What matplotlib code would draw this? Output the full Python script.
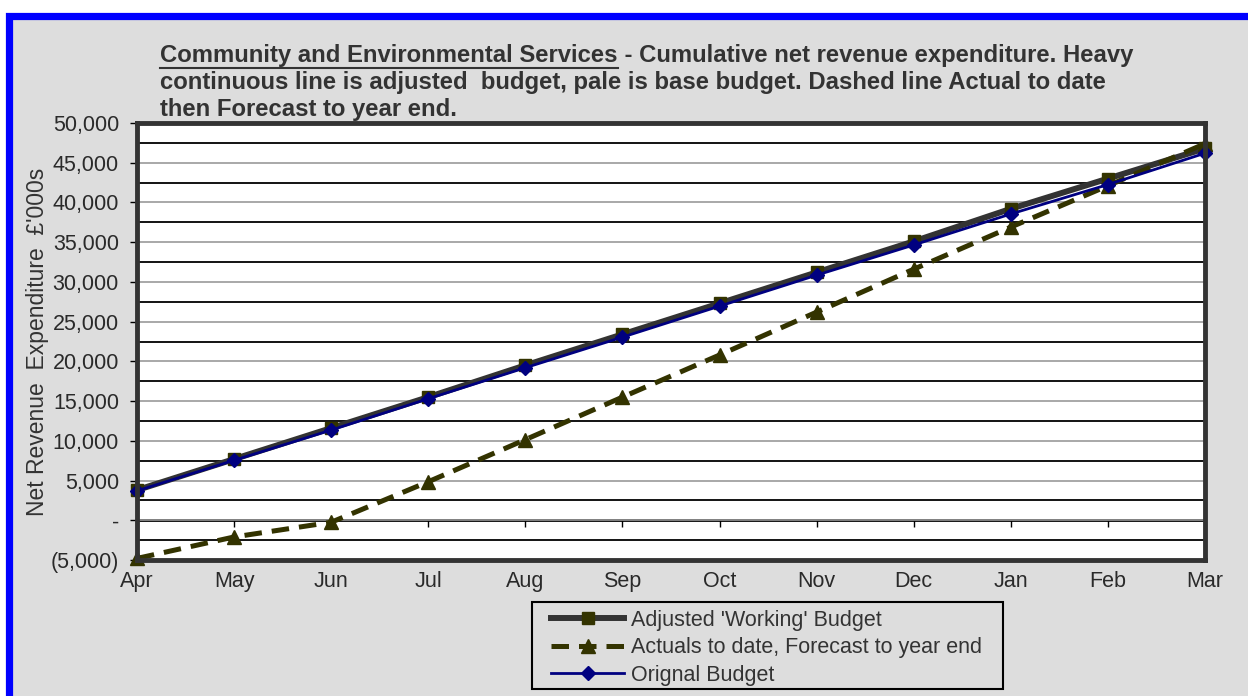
"""
Community and Environmental Services - cumulative net revenue expenditure
"""

import numpy as np
import matplotlib
matplotlib.use("Agg")
import matplotlib.pyplot as plt
from matplotlib.patches import Rectangle
from matplotlib.lines import Line2D
from matplotlib.ticker import MultipleLocator, FuncFormatter

plt.rcParams["font.family"] = ["Liberation Sans", "DejaVu Sans"]

# ── Data ──────────────────────────────────────────────────────────────────────
months = ["Apr", "May", "Jun", "Jul", "Aug", "Sep", "Oct", "Nov", "Dec", "Jan", "Feb", "Mar"]

adjusted_budget = [3800, 7700, 11600, 15500, 19500, 23400, 27300, 31200, 35100, 39200, 43000, 46800]
actual_forecast = [-4800, -2100, -250, 4850, 10150, 15500, 20800, 26200, 31600, 36900, 42100, 47400]
original_budget = [3700, 7550, 11350, 15300, 19200, 23050, 26950, 30850, 34650, 38550, 42250, 46200]

labels = ["Adjusted 'Working' Budget",
          "Actuals to date, Forecast to year end",
          "Orignal Budget"]

BG = "#dddddd"
x = np.arange(len(months))

# ── Figure ────────────────────────────────────────────────────────────────────
W, H = 1248, 696
fig = plt.figure(figsize=(W / 100, H / 100), dpi=100, facecolor="white")

# gray panel with blue border on the left/top
fig.patches.append(Rectangle((8.5 / W, -0.2), 1.3, 1.2 - 15.5 / H,
                             transform=fig.transFigure, facecolor=BG,
                             edgecolor="#0000ff", linewidth=5.2, zorder=-10))

ax = fig.add_axes([137 / W, 1 - 560 / H, (1205 - 137) / W, (560 - 123) / H])
ax.set_facecolor("white")

# grid: gray at 5,000 steps, black half-steps
ax.yaxis.set_major_locator(MultipleLocator(5000))
ax.yaxis.set_minor_locator(MultipleLocator(2500))
ax.grid(True, which="major", axis="y", color="#999999", linewidth=1.2, zorder=1)
ax.grid(True, which="minor", axis="y", color="black", linewidth=1.3, zorder=1)
ax.axhline(0, color="black", linewidth=2, zorder=1)
ax.plot(x, np.zeros(len(x)), linestyle="none", marker=3, markersize=5,
        color="black", zorder=1, clip_on=False)

ax.plot(x, adjusted_budget, color="#333333", linewidth=4.3, marker="s",
        markersize=8, markerfacecolor="#333300", markeredgecolor="#333300",
        zorder=3, clip_on=False, label=labels[0])
ax.plot(x, actual_forecast, color="#333300", linewidth=3.6, dashes=(3.5, 2),
        marker="^", markersize=10, markerfacecolor="#333300",
        markeredgecolor="#333300", zorder=4, clip_on=False, label=labels[1])
ax.plot(x, original_budget, color="#000080", linewidth=2, marker="D",
        markersize=7, markerfacecolor="#000080", markeredgecolor="#000080",
        zorder=5, clip_on=False, label=labels[2])

ax.set_xlim(0, len(months) - 1)
ax.set_ylim(-5000, 50000)
ax.set_xticks(x)
ax.set_xticklabels(months)


def fmt(v, pos):
    if v == 0:
        return "-"
    if v < 0:
        return f"({abs(v):,.0f})"
    return f"{v:,.0f}"


ax.yaxis.set_major_formatter(FuncFormatter(fmt))
ax.tick_params(axis="y", which="major", length=5, width=1, color="black",
               pad=8, labelsize=15.5, labelcolor="#2a2a2a")
ax.tick_params(axis="y", which="minor", length=0)
ax.tick_params(axis="x", length=0, pad=8, labelsize=15.5, labelcolor="#2a2a2a")

for s in ax.spines.values():
    s.set_color("#333333")
    s.set_linewidth(3.5)
    s.set_zorder(6)

ax.set_ylabel("Net Revenue  Expenditure  £'000s", fontsize=16.5, color="#333333",
              va="center")
ax.yaxis.set_label_coords((38 - 137) / (1205 - 137), 0.5)

# ── Title (first part underlined) ─────────────────────────────────────────────
tkw = dict(fontsize=17.2, fontweight="bold", color="#333333", va="top")
t1 = fig.text(160 / W, 1 - 44 / H, "Community and Environmental Services", **tkw)
ax.annotate(" - Cumulative net revenue expenditure. Heavy", xy=(1, 0),
            xycoords=t1, va="bottom", ha="left", fontsize=17.2,
            fontweight="bold", color="#333333", annotation_clip=False)
fig.text(160 / W, 1 - 71 / H,
         "continuous line is adjusted  budget, pale is base budget. Dashed line Actual to date",
         **tkw)
fig.text(160 / W, 1 - 98 / H, "then Forecast to year end.", **tkw)

fig.canvas.draw()
bb = t1.get_window_extent().transformed(fig.transFigure.inverted())
fig.lines.append(Line2D([bb.x0, bb.x1], [bb.y0 - 1 / H, bb.y0 - 1 / H],
                        transform=fig.transFigure, color="#333333", linewidth=1.5))

# ── Legend ────────────────────────────────────────────────────────────────────
fig.patches.append(Rectangle((532 / W, 1 - 689 / H), (1003 - 532) / W, (689 - 602) / H,
                             transform=fig.transFigure, facecolor=BG,
                             edgecolor="black", linewidth=1.5, zorder=2))
leg = fig.legend(loc="upper left", bbox_to_anchor=(551 / W, 1 - 610 / H),
                 fontsize=15.5, frameon=False, handlelength=3.4,
                 labelspacing=0.3, borderpad=0, borderaxespad=0,
                 handletextpad=0.3)
leg.set_zorder(3)
for t in leg.get_texts():
    t.set_color("#333333")

fig.savefig("out.png", dpi=100, facecolor=fig.get_facecolor())
